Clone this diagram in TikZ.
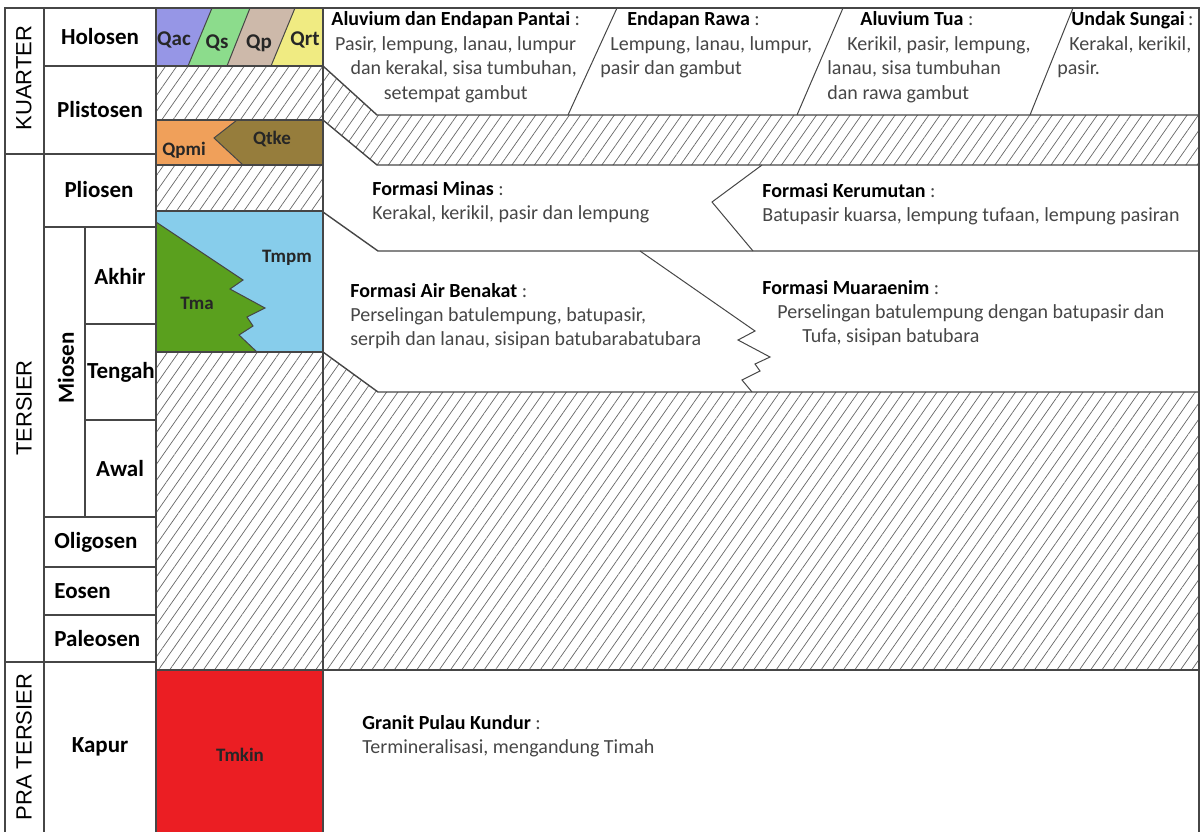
\documentclass[tikz,border=0pt]{standalone}
\usepackage{fontspec}
\setmainfont{Carlito}
\newfontfamily\arialfont{Liberation Sans}
\usetikzlibrary{patterns.meta,positioning}

\definecolor{gridline}{RGB}{70,70,70}
\definecolor{qaccol}{RGB}{150,150,230}
\definecolor{qscol}{RGB}{140,220,140}
\definecolor{qpcol}{RGB}{205,185,170}
\definecolor{qrtcol}{RGB}{240,235,130}
\definecolor{qpmicol}{RGB}{240,160,90}
\definecolor{qtkecol}{RGB}{150,125,60}
\definecolor{tmpmcol}{RGB}{135,205,235}
\definecolor{tmacol}{RGB}{90,160,30}
\definecolor{tmkincol}{RGB}{235,30,35}
\definecolor{desctext}{RGB}{70,70,70}

\begin{document}
\begin{tikzpicture}[x=0.5pt,y=-0.5pt,
    grid/.style={draw=gridline, line width=0.7pt},
    thin grid/.style={draw=gridline, line width=0.5pt},
    hatch/.style={pattern={Lines[angle=55,distance=4.6pt,line width=0.35pt]}, pattern color=gray!80!black},
    era/.style={font=\arialfont\fontsize{11}{13}\selectfont, rotate=90, inner sep=0pt},
    epoch/.style={font=\bfseries\fontsize{11.5}{13}\selectfont, inner sep=0pt},
    unit/.style={font=\bfseries\fontsize{9.5}{10}\selectfont, text=black!85, inner sep=0pt},
    qunit/.style={unit, font=\bfseries\fontsize{10.5}{11}\selectfont},
    desc/.style={font=\fontsize{10}{12}\selectfont, text=desctext, align=left, anchor=west, inner sep=0pt},
    qdesc/.style={font=\fontsize{10}{12.3}\selectfont, text=desctext, align=left, anchor=north west, inner sep=0pt}]
    \useasboundingbox (0,0) rectangle (1203,832);

    % colour units
    \fill[qaccol] (156,8) -- (212,8) -- (188,66) -- (156,66) -- cycle;
    \fill[qscol] (212,8) -- (250,8) -- (227,66) -- (188,66) -- cycle;
    \fill[qpcol] (250,8) -- (295,8) -- (271,66) -- (227,66) -- cycle;
    \fill[qrtcol] (295,8) -- (323,8) -- (323,66) -- (271,66) -- cycle;
    \fill[qpmicol] (156,120) -- (237,120) -- (214,138) -- (243,165) -- (156,165) -- cycle;
    \fill[qtkecol] (237,120) -- (323,120) -- (323,165) -- (243,165) -- (214,138) -- cycle;
    \fill[tmpmcol] (156,211) rectangle (323,352);
    \fill[tmacol] (156,222) -- (243,280) -- (230,289) -- (265,308) -- (247,317) -- (253,326)
        -- (239,335) -- (257,352) -- (156,352) -- cycle;
    \fill[tmkincol] (156,670) rectangle (323,832);

    % hatched gaps
    \fill[hatch] (156,66) rectangle (323,120);
    \fill[hatch] (323,66) -- (377,115) -- (1199,115) -- (1199,165) -- (377,165) -- (323,120) -- cycle;
    \fill[hatch] (156,165) rectangle (323,211);
    \fill[hatch] (156,352) -- (323,352) -- (378,392) -- (1199,392) -- (1199,670) -- (156,670) -- cycle;

    % frame and columns
    \draw[grid] (5,832) -- (5,8) -- (1199,8) -- (1199,832);
    \draw[grid] (44,8) -- (44,832);
    \draw[grid] (156,8) -- (156,832);
    \draw[grid] (323,8) -- (323,832);
    \draw[grid] (85,227) -- (85,517);
    \draw[grid] (5,154) -- (44,154);
    \draw[grid] (5,662) -- (44,662);
    \foreach \yy in {66,154,227,517,567,615,662}
        \draw[grid] (44,\yy) -- (156,\yy);
    \draw[grid] (85,324) -- (156,324);
    \draw[grid] (85,420) -- (156,420);
    \foreach \yy in {66,120,165,211,352,670}
        \draw[grid] (156,\yy) -- (323,\yy);

    % unit contacts
    \draw[thin grid] (212,8) -- (188,66);
    \draw[thin grid] (250,8) -- (227,66);
    \draw[thin grid] (295,8) -- (271,66);
    \draw[thin grid] (237,120) -- (214,138) -- (243,165);
    \draw[thin grid] (156,222) -- (243,280) -- (230,289) -- (265,308) -- (247,317) -- (253,326)
        -- (239,335) -- (257,352);

    % description panel
    \draw[thin grid] (617,8) -- (568,115);
    \draw[thin grid] (843,8) -- (797,115);
    \draw[thin grid] (1073,8) -- (1030,115);
    \draw[grid] (323,66) -- (377,115) -- (1199,115);
    \draw[grid] (323,120) -- (377,165) -- (1199,165);
    \draw[grid] (323,212) -- (378,251) -- (1199,251);
    \draw[thin grid] (762,165) -- (712,202) -- (753,251);
    \draw[thin grid] (640,251) -- (755,331) -- (738,340) -- (770,357) -- (755,364) -- (760,371)
        -- (742,380) -- (752,392);
    \draw[grid] (323,352) -- (378,392) -- (1199,392);
    \draw[grid] (323,670) -- (1199,670);

    % era and epoch names
    \node[era] (kuarter) at (24,78) {KUARTER};
    \node[era] (tersier) at (24,408) {TERSIER};
    \node[era] (pratersier) at (24,747) {PRA TERSIER};
    \node[epoch] (holosen) at (100,37) {Holosen};
    \node[epoch] (plistosen) at (100,110) {Plistosen};
    \node[epoch] (pliosen) at (99,190) {Pliosen};
    \node[epoch, rotate=90] (miosen) at (66,368) {Miosen};
    \node[epoch] (akhir) at (120,276) {Akhir};
    \node[epoch] (tengah) at (121,372) {Tengah};
    \node[epoch] (awal) at (120,468) {Awal};
    \node[epoch, anchor=west] (oligosen) at (54,542) {Oligosen};
    \node[epoch, anchor=west] (eosen) at (54,591) {Eosen};
    \node[epoch, anchor=west] (paleosen) at (54,638) {Paleosen};
    \node[epoch] (kapur) at (100,747) {Kapur};

    % unit symbols
    \node[qunit] (qac) at (174,40) {Qac};
    \node[qunit] (qs) at (217,43) {Qs};
    \node[qunit] (qp) at (259,43) {Qp};
    \node[qunit] (qrt) at (305,40) {Qrt};
    \node[unit] (qpmi) at (184,150) {Qpmi};
    \node[unit] (qtke) at (272,139) {Qtke};
    \node[unit] (tmpm) at (287,258) {Tmpm};
    \node[unit] (tma) at (197,303) {Tma};
    \node[unit] (tmkin) at (240,755) {Tmkin};

    % descriptions
    \node[qdesc, align=center] (aluvpantai) at (331,11)
        {\textbf{\color{black}Aluvium dan Endapan Pantai} :\\Pasir, lempung, lanau, lumpur\\\hspace*{8pt}dan kerakal, sisa tumbuhan,\\setempat gambut};
    \node[qdesc] (rawa) at (600,11)
        {\hspace*{13.5pt}\textbf{\color{black}Endapan Rawa} :\\\hspace*{5pt}Lempung, lanau, lumpur,\\pasir dan gambut};
    \node[qdesc] (aluvtua) at (827,11)
        {\hspace*{16.5pt}\textbf{\color{black}Aluvium Tua} :\\\hspace*{10pt}Kerikil, pasir, lempung,\\lanau, sisa tumbuhan\\dan rawa gambut};
    \node[qdesc] (undak) at (1057,11)
        {\hspace*{7pt}\textbf{\color{black}Undak Sungai}\,:\\\hspace*{6pt}Kerakal, kerikil,\\pasir.};
    \node[desc] (minas) at (372,202)
        {\textbf{\color{black}Formasi Minas} :\\Kerakal, kerikil, pasir dan lempung};
    \node[desc] (kerumutan) at (762,204)
        {\textbf{\color{black}Formasi Kerumutan} :\\Batupasir kuarsa, lempung tufaan, lempung pasiran};
    \node[desc] (airbenakat) at (350,316)
        {\textbf{\color{black}Formasi Air Benakat} :\\Perselingan batulempung, batupasir,\\serpih dan lanau, sisipan batubarabatubara};
    \node[desc] (muaraenim) at (762,313)
        {\textbf{\color{black}Formasi Muaraenim} :\\\hspace*{7.5pt}Perselingan batulempung dengan batupasir dan\\\hspace*{20pt}Tufa, sisipan batubara};
    \node[desc] (granit) at (362,736)
        {\textbf{\color{black}Granit Pulau Kundur} :\\Termineralisasi, mengandung Timah};
\end{tikzpicture}
\end{document}
